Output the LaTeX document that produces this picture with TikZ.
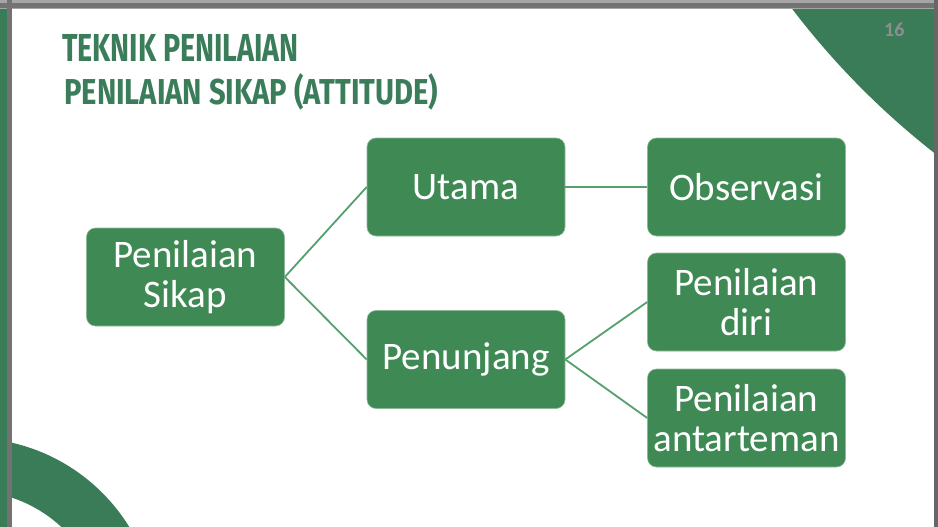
\documentclass[tikz,border=0pt]{standalone}
\usepackage{fontspec}
\setmainfont{Carlito}
\newfontfamily\titlefonta[FakeStretch=0.735]{Fira Sans}
\newfontfamily\titlefontb[FakeStretch=0.81]{Fira Sans}
\definecolor{boxgreen}{HTML}{3F8A54}
\definecolor{deepgreen}{HTML}{3A7B58}
\definecolor{titlegreen}{HTML}{3B7D5A}
\definecolor{linegreen}{HTML}{54A06E}
\definecolor{pagegrey}{HTML}{8E8E8E}
\tikzset{
  box/.style={fill=boxgreen, draw=boxgreen!60!white, line width=0.6pt, rounded corners=9pt,
    minimum width=198pt, minimum height=98pt, text=white, align=center,
    font=\fontsize{39}{40}\selectfont, inner sep=0pt},
  conn/.style={draw=linegreen, line width=1.8pt},
  ttl/.style={text=titlegreen, anchor=base west, inner sep=0pt}
}
\begin{document}
\begin{tikzpicture}[x=1pt,y=-1pt]
\useasboundingbox (0,0) rectangle (938,527);
\fill[white] (0,0) rectangle (938,527);
% corner decorations
\begin{scope}
  \clip (12,9) rectangle (934,527);
  \fill[deepgreen] (1421.8,-470) circle (791);
  \fill[deepgreen, even odd rule] (-30,625) circle (187) (-30,625) circle (134);
\end{scope}
% frame of the screenshot
\fill[deepgreen] (0,9) rectangle (7,527);
\fill[gray!70] (0,0) rectangle (938,9);
\fill[gray!90!black] (0,3) rectangle (938,8);
\fill[gray!90!black] (7,0) rectangle (12,527);
\fill[gray!80!black] (934,0) rectangle (938,527);
% title
\node[ttl, font=\titlefonta\bfseries\fontsize{39}{40}\selectfont] (t1) at (62,62) {TEKNIK PENILAIAN};
\node[ttl, font=\titlefontb\bfseries\fontsize{36}{38}\selectfont] (t2) at (64,105) {PENILAIAN SIKAP (ATTITUDE)};
\node[text=pagegrey, font=\bfseries\fontsize{20}{22}\selectfont, anchor=base west, inner sep=0pt] (pg) at (884,37) {16};
% boxes
\node[box] (ps) at (185.5,277) {Penilaian\\Sikap};
\node[box] (ut) at (466,187) {Utama};
\node[box] (ob) at (746.5,187) {Observasi};
\node[box] (pn) at (466,359.5) {Penunjang};
\node[box] (pd) at (746.5,302) {Penilaian\\diri};
\node[box] (pa) at (746.5,418) {Penilaian\\antarteman};
% connectors
\draw[conn] (ps.east) -- (ut.west);
\draw[conn] (ps.east) -- (pn.west);
\draw[conn] (ut.east) -- (ob.west);
\draw[conn] (pn.east) -- (pd.west);
\draw[conn] (pn.east) -- (pa.west);
\end{tikzpicture}
\end{document}
